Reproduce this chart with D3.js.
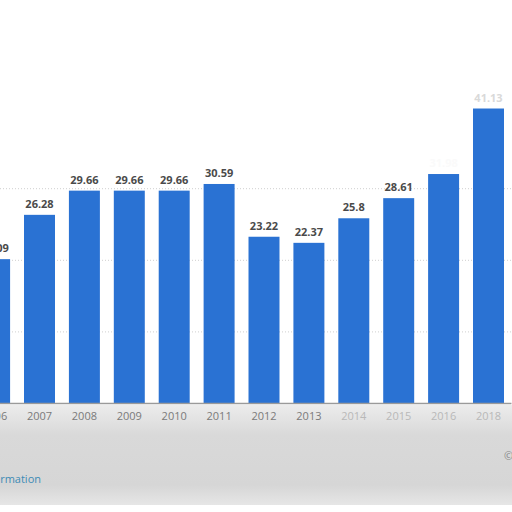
<!DOCTYPE html>
<html>
<head>
<meta charset="utf-8">
<script src="https://cdn.jsdelivr.net/npm/d3@7"></script>
<style>
  html, body { margin: 0; padding: 0; background: #fff; }
</style>
</head>
<body>
<svg id="chart"></svg>
<script>
// Chart data
var years = ["2006", "2007", "2008", "2009", "2010", "2011", "2012", "2013", "2014", "2015", "2016", "2018"];
var values = [20.09, 26.28, 29.66, 29.66, 29.66, 30.59, 23.22, 22.37, 25.8, 28.61, 31.98, 41.13];
var gridTicks = [10, 20, 30];

const dimensions = {
    width: 512,
    height: 512,
    baseline: 403,
    top: 116.6
};

const svg = d3.select("#chart")
    .attr("width", dimensions.width)
    .attr("height", dimensions.height);

// Scales
let x = d3.scaleBand()
    .domain(years)
    .range([-27.85, 510.95])
    .paddingInner(0.31)
    .paddingOuter(0.155);

let y = d3.scaleLinear()
    .domain([0, 40])
    .range([dimensions.baseline, dimensions.top]);

// soft gray footer area
const defs = svg.append("defs");
const grad = defs.append("linearGradient")
    .attr("id", "footer")
    .attr("x1", 0).attr("y1", 0).attr("x2", 0).attr("y2", 1);
grad.append("stop").attr("offset", "0%").attr("stop-color", "#ececec");
grad.append("stop").attr("offset", "30%").attr("stop-color", "#d9d9d9");
grad.append("stop").attr("offset", "80%").attr("stop-color", "#d6d6d6");
grad.append("stop").attr("offset", "100%").attr("stop-color", "#e6e6e6");

svg.append("rect")
    .attr("x", 0)
    .attr("y", dimensions.baseline + 2)
    .attr("width", dimensions.width)
    .attr("height", 100)
    .attr("fill", "url(#footer)");

// Grid lines
let yGrid = g => g
    .call(d3.axisLeft(y).tickValues(gridTicks).tickSize(-dimensions.width).tickFormat(""))
    .call(g => g.select(".domain").remove())
    .call(g => g.selectAll(".tick line")
        .attr("stroke", "#cfcfcf")
        .attr("stroke-dasharray", "1,2"));

svg.append("g").call(yGrid);

// Bars
svg.append("g")
    .selectAll("rect")
    .data(values)
    .join("rect")
    .attr("x", (d, i) => x(years[i]))
    .attr("y", d => y(d))
    .attr("width", x.bandwidth())
    .attr("height", d => y(0) - y(d))
    .attr("fill", "#2a72d3");

// Value labels (the last two are faded out in the picture)
svg.append("g")
    .selectAll("text")
    .data(values)
    .join("text")
    .attr("x", (d, i) => x(years[i]) + x.bandwidth() / 2)
    .attr("y", d => y(d) - 7)
    .attr("text-anchor", "middle")
    .style("font-family", "'Open Sans', sans-serif")
    .style("font-size", "11px")
    .style("font-weight", "bold")
    .attr("fill", (d, i) => years[i] === "2016" ? "#fafafa" : (years[i] === "2018" ? "#d9d9d9" : "#4a4a4a"))
    .text(d => d);

// X axis
let xAxis = g => g
    .attr("transform", `translate(0, ${dimensions.baseline})`)
    .call(d3.axisBottom(x).tickSize(0).tickPadding(9))
    .call(g => g.select(".domain").attr("stroke", "#9a9a9a").attr("stroke-width", 1.5))
    .call(g => g.selectAll(".tick text")
        .style("font-family", "'Open Sans', sans-serif")
        .style("font-size", "11px")
        .attr("fill", (d) => ["2014", "2015", "2016", "2018"].includes(d) ? "#b8b8b8" : "#7a7a7a"));

svg.append("g").call(xAxis);

// footer texts
svg.append("text")
    .attr("x", 41)
    .attr("y", 483)
    .attr("text-anchor", "end")
    .style("font-family", "'Open Sans', sans-serif")
    .style("font-size", "11px")
    .attr("fill", "#3d8bb5")
    .text("Additional Information");

svg.append("text")
    .attr("x", 504)
    .attr("y", 460)
    .style("font-family", "'Open Sans', sans-serif")
    .style("font-size", "11px")
    .attr("fill", "#888")
    .text("©");
</script>
</body>
</html>
